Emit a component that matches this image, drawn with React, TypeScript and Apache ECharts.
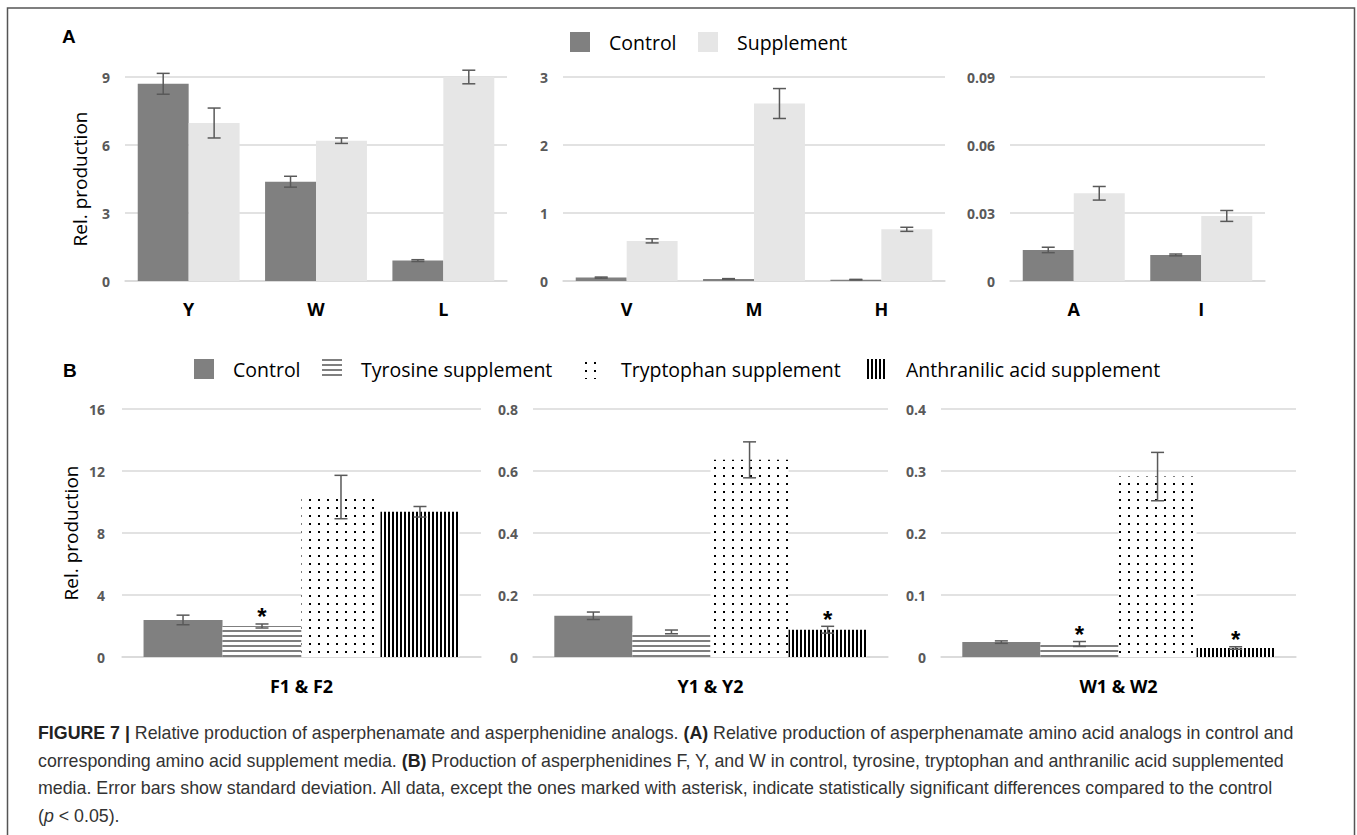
import React, { useEffect, useRef } from 'react';
import * as echarts from 'echarts';

// ---------- Data ----------
// Panel A
const catsA1 = ['Y', 'W', 'L'];
const controlA1 = [8.7, 4.38, 0.9];
const controlA1Err = [0.46, 0.24, 0.04];
const supplementA1 = [6.97, 6.19, 9.0];
const supplementA1Err = [0.66, 0.12, 0.3];

const catsA2 = ['V', 'M', 'H'];
const controlA2 = [0.05, 0.03, 0.02];
const controlA2Err = [0.008, 0.005, 0.004];
const supplementA2 = [0.59, 2.61, 0.76];
const supplementA2Err = [0.03, 0.22, 0.03];

const catsA3 = ['A', 'I'];
const controlA3 = [0.0137, 0.0115];
const controlA3Err = [0.0012, 0.0004];
const supplementA3 = [0.0387, 0.0287];
const supplementA3Err = [0.003, 0.0024];

const axisMaxA = [9, 3, 0.09];
const axisStepA = [3, 1, 0.03];

// Panel B
const catsB = [['F1 & F2'], ['Y1 & Y2'], ['W1 & W2']];
const controlB = [2.39, 0.133, 0.024];
const controlBErr = [0.31, 0.012, 0.002];
const tyrosineB = [2.0, 0.081, 0.021];
const tyrosineBErr = [0.13, 0.006, 0.004];
const tryptophanB = [10.32, 0.636, 0.291];
const tryptophanBErr = [1.4, 0.058, 0.039];
const anthranilicB = [9.37, 0.088, 0.0145];
const anthranilicBErr = [0.34, 0.011, 0.002];
const tyrosineStar = [true, false, true];
const anthranilicStar = [false, true, true];

const axisMaxB = [16, 0.8, 0.4];
const axisStepB = [4, 0.2, 0.1];

const legendA = ['Control', 'Supplement'];
const legendB = ['Control', 'Tyrosine supplement', 'Tryptophan supplement', 'Anthranilic acid supplement'];

const captionLines = [
  '{b|FIGURE 7 |} Relative production of asperphenamate and asperphenidine analogs. {b|(A)} Relative production of asperphenamate amino acid analogs in control and',
  'corresponding amino acid supplement media. {b|(B)} Production of asperphenidines F, Y, and W in control, tyrosine, tryptophan and anthranilic acid supplemented',
  'media. Error bars show standard deviation. All data, except the ones marked with asterisk, indicate statistically significant differences compared to the control',
  '({i|p} < 0.05).',
];

// ---------- Style ----------
const FONT = "'Open Sans', sans-serif";
const CAP_FONT = "'Liberation Sans', Arial, sans-serif";
const DARK = '#808080';
const LIGHT = '#e6e6e6';
const ERR = '#595959';
const GRIDC = '#d9d9d9';
const CAP_SIZE = 17.8;

function makeCanvas(w: number, h: number, draw: (c: CanvasRenderingContext2D) => void) {
  const cv = document.createElement('canvas');
  cv.width = w;
  cv.height = h;
  const ctx = cv.getContext('2d')!;
  ctx.fillStyle = '#ffffff';
  ctx.fillRect(0, 0, w, h);
  draw(ctx);
  return { image: cv, repeat: 'repeat', imageWidth: w, imageHeight: h };
}

function errorSeries(grid: number, values: number[], errs: number[], offset: number, stars?: boolean[]) {
  return {
    type: 'custom',
    xAxisIndex: grid,
    yAxisIndex: grid,
    silent: true,
    z: 10,
    clip: false,
    data: values.map((v, i) => [i, v, errs[i], stars && stars[i] ? 1 : 0]),
    encode: { x: 0, y: 1 },
    renderItem: (params: any, api: any) => {
      const cat = api.value(0);
      const v = api.value(1);
      const e = api.value(2);
      const star = api.value(3);
      const band = api.size([1, 0])[0];
      const x = api.coord([cat, 0])[0] + offset * band;
      const top = api.coord([cat, v + e])[1];
      const bot = api.coord([cat, v - e])[1];
      const cap = 6.5;
      const style = { stroke: ERR, lineWidth: 1.5 };
      const children: any[] = [
        { type: 'line', shape: { x1: x, y1: top, x2: x, y2: bot }, style },
        { type: 'line', shape: { x1: x - cap, y1: top, x2: x + cap, y2: top }, style },
        { type: 'line', shape: { x1: x - cap, y1: bot, x2: x + cap, y2: bot }, style },
      ];
      if (star) {
        children.push({
          type: 'text',
          x,
          y: top + 5,
          style: {
            text: '*',
            fontSize: 24,
            fontWeight: 'bold',
            fontFamily: CAP_FONT,
            fill: '#000',
            align: 'center',
            verticalAlign: 'bottom',
          },
        });
      }
      return { type: 'group', children };
    },
  };
}

export default function App() {
  const ref = useRef<HTMLDivElement>(null);

  useEffect(() => {
    document.body.style.margin = '0';
    const chart = echarts.init(ref.current!, undefined, { renderer: 'svg' });

    const tyrPattern = makeCanvas(4, 5, (c) => {
      c.fillStyle = '#7f7f7f';
      c.fillRect(0, 0, 4, 2);
    });
    const trpPattern = makeCanvas(9, 8, (c) => {
      c.fillStyle = '#000000';
      c.fillRect(3, 3, 2, 2);
    });
    const antPattern = makeCanvas(4, 4, (c) => {
      c.fillStyle = '#000000';
      c.fillRect(0, 0, 2, 4);
    });

    const gridsA = [
      { left: 125, top: 77, width: 382, height: 204 },
      { left: 563, top: 77, width: 382, height: 204 },
      { left: 1010, top: 77, width: 255, height: 204 },
    ];
    const gridsB = [
      { left: 122, top: 409, width: 359, height: 248 },
      { left: 533, top: 409, width: 355, height: 248 },
      { left: 941, top: 409, width: 355, height: 248 },
    ];
    const grids = [...gridsA, ...gridsB];
    const catsAll = [catsA1, catsA2, catsA3, ...catsB];
    const maxAll = [...axisMaxA, ...axisMaxB];
    const stepAll = [...axisStepA, ...axisStepB];

    const xAxes = catsAll.map((cats, i) => ({
      type: 'category',
      gridIndex: i,
      data: cats,
      axisTick: { show: false },
      axisLine: { lineStyle: { color: GRIDC, width: 1.5 } },
      axisLabel: {
        fontSize: 18,
        fontWeight: 'bold',
        color: '#000',
        fontFamily: FONT,
        margin: i < 3 ? 19 : 20,
      },
    }));

    const yAxes = maxAll.map((mx, i) => ({
      type: 'value',
      gridIndex: i,
      min: 0,
      max: mx,
      interval: stepAll[i],
      axisLine: { show: false },
      axisTick: { show: false },
      splitLine: { lineStyle: { color: GRIDC, width: 1.5 } },
      axisLabel: {
        fontSize: 14,
        fontWeight: 'bold',
        color: '#595959',
        fontFamily: FONT,
        margin: i === 3 ? 17 : 15,
      },
      name: i === 0 || i === 3 ? 'Rel. production' : '',
      nameLocation: 'middle',
      nameRotate: 90,
      nameGap: i === 0 ? 36 : 42,
      nameTextStyle: { fontSize: 19, color: '#000', fontFamily: FONT },
    }));

    const barA = (name: string, grid: number, data: number[], color: any) => ({
      type: 'bar',
      name,
      xAxisIndex: grid,
      yAxisIndex: grid,
      data,
      barGap: '0%',
      barCategoryGap: '20%',
      itemStyle: { color },
      emphasis: { disabled: true },
      silent: true,
    });
    const barB = (name: string, grid: number, data: number[], color: any) => ({
      type: 'bar',
      name,
      xAxisIndex: grid,
      yAxisIndex: grid,
      data,
      barGap: '0%',
      barCategoryGap: '12%',
      itemStyle: { color },
      emphasis: { disabled: true },
      silent: true,
    });

    const series: any[] = [];
    const aSets = [
      [controlA1, controlA1Err, supplementA1, supplementA1Err],
      [controlA2, controlA2Err, supplementA2, supplementA2Err],
      [controlA3, controlA3Err, supplementA3, supplementA3Err],
    ];
    aSets.forEach(([c, ce, s, se], g) => {
      series.push(barA(legendA[0], g, c, DARK));
      series.push(barA(legendA[1], g, s, LIGHT));
      series.push(errorSeries(g, c, ce, -0.2));
      series.push(errorSeries(g, s, se, 0.2));
    });
    const bColors = [DARK, tyrPattern, trpPattern, antPattern];
    const bVals = [controlB, tyrosineB, tryptophanB, anthranilicB];
    const bErrs = [controlBErr, tyrosineBErr, tryptophanBErr, anthranilicBErr];
    const bStars: (boolean[] | undefined)[] = [undefined, tyrosineStar, undefined, anthranilicStar];
    const bOffsets = [-0.33, -0.11, 0.11, 0.33];
    for (let g = 0; g < 3; g++) {
      for (let k = 0; k < 4; k++) {
        series.push(barB(legendB[k], 3 + g, [bVals[k][g]], bColors[k]));
      }
      for (let k = 0; k < 4; k++) {
        const st = bStars[k];
        series.push(errorSeries(3 + g, [bVals[k][g]], [bErrs[k][g]], bOffsets[k], st ? [st[g]] : undefined));
      }
    }

    const legendBase = {
      orient: 'horizontal',
      itemWidth: 20,
      itemHeight: 20,
      icon: 'rect',
      selectedMode: false,
      padding: 0,
      textStyle: { fontSize: 19.5, color: '#000', fontFamily: FONT, padding: [0, 0, 0, 14] },
    };
    const legends = [
      { ...legendBase, data: [legendA[0]], left: 570, top: 32 },
      { ...legendBase, data: [legendA[1]], left: 698, top: 32 },
      { ...legendBase, data: [legendB[0]], left: 194, top: 359 },
      { ...legendBase, data: [legendB[1]], left: 322, top: 359 },
      { ...legendBase, data: [legendB[2]], left: 582, top: 359 },
      { ...legendBase, data: [legendB[3]], left: 867, top: 359 },
    ];

    const capRich = {
      b: { fontWeight: 'bold', fontSize: CAP_SIZE, fontFamily: CAP_FONT, fill: '#222' },
      i: { fontStyle: 'italic', fontSize: CAP_SIZE, fontFamily: CAP_FONT, fill: '#333' },
    };
    const captionY = [733, 760.5, 788, 815.5];

    const graphic: any[] = [
      {
        type: 'rect',
        shape: { x: 7.5, y: 8, width: 1347, height: 840 },
        style: { fill: 'none', stroke: '#555555', lineWidth: 1.5 },
        silent: true,
      },
      {
        type: 'text',
        x: 62,
        y: 36.5,
        style: { text: 'A', fontSize: 19, fontWeight: 'bold', fontFamily: CAP_FONT, fill: '#000', verticalAlign: 'middle' },
      },
      {
        type: 'text',
        x: 63,
        y: 370.5,
        style: { text: 'B', fontSize: 19, fontWeight: 'bold', fontFamily: CAP_FONT, fill: '#000', verticalAlign: 'middle' },
      },
      ...captionLines.map((t, i) => ({
        type: 'text',
        x: 38,
        y: captionY[i],
        style: {
          text: t,
          rich: capRich,
          fontSize: CAP_SIZE,
          fontFamily: CAP_FONT,
          fill: '#333',
          verticalAlign: 'middle',
        },
      })),
    ];

    chart.setOption({
      animation: false,
      backgroundColor: '#ffffff',
      grid: grids,
      xAxis: xAxes,
      yAxis: yAxes,
      legend: legends,
      series,
      graphic,
    });

    return () => {
      chart.dispose();
    };
  }, []);

  return <div ref={ref} style={{ position: 'absolute', left: 0, top: 0, width: 1357, height: 835 }} />;
}
